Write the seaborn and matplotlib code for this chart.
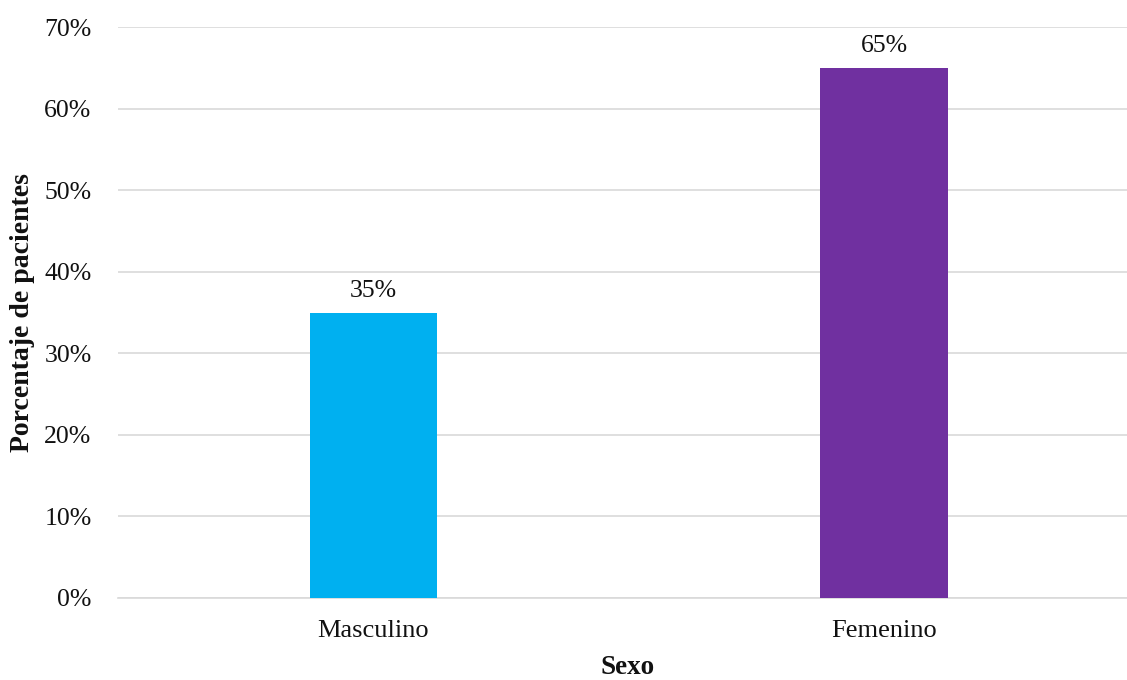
import matplotlib
matplotlib.use("Agg")
import matplotlib.pyplot as plt
import seaborn as sns
import pandas as pd
from matplotlib.ticker import PercentFormatter

# data
sexo = ['Masculino', 'Femenino']
porcentaje = [35, 65]
colores = ['#00B0F0', '#7030A0']

df = pd.DataFrame({'Sexo': sexo, 'Porcentaje': porcentaje})

sns.set_style('white')
plt.rcParams['font.family'] = ['Liberation Serif', 'DejaVu Serif']

fig = plt.figure(figsize=(11.27, 6.8), dpi=100)
ax = fig.add_axes([118 / 1127, 1 - 598 / 680, 1 - 118 / 1127, (598 - 27) / 680])

sns.barplot(x='Sexo', y='Porcentaje', hue='Sexo', data=df, palette=colores,
            width=0.25, legend=False, ax=ax, saturation=1, linewidth=0, zorder=3)

# value labels above bars
for i, val in enumerate(porcentaje):
    ax.text(i, val + 1.3, f'{val}%', ha='center', va='bottom', fontsize=18.5, color='#111111')

ax.set_ylim(0, 70)
ax.set_xlim(-0.5, 1.475)
ax.set_yticks(range(0, 71, 10))
ax.yaxis.set_major_formatter(PercentFormatter(decimals=0))
ax.grid(axis='y', color='#D9D9D9', linewidth=1.2, zorder=0)
ax.set_axisbelow(True)

for s in ['top', 'right', 'left']:
    ax.spines[s].set_visible(False)
ax.spines['bottom'].set_color('#D9D9D9')
ax.spines['bottom'].set_linewidth(1.2)

ax.tick_params(axis='both', length=0, colors='#111111')
ax.tick_params(axis='x', pad=16, labelsize=19)
ax.tick_params(axis='y', pad=19, labelsize=18.5)
ax.set_xlabel('Sexo', fontsize=19.5, fontweight='bold', labelpad=12, color='#111111')
ax.set_ylabel('Porcentaje de pacientes', fontsize=20, fontweight='bold', labelpad=7, color='#111111')
ax.xaxis.set_label_coords(0.505, -0.1)
ax.xaxis.label.set_verticalalignment('top')

fig.savefig('out.png', dpi=100)
